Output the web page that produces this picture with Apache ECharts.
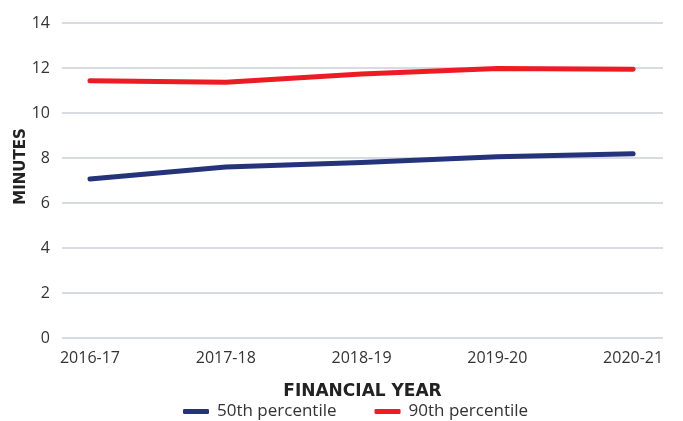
<!DOCTYPE html>
<html>
<head>
<meta charset="utf-8">
<script src="https://cdn.jsdelivr.net/npm/echarts@6/dist/echarts.min.js"></script>
<style>
  html, body { margin: 0; padding: 0; background: #fff; }
  #chart { width: 683px; height: 421px; }
</style>
</head>
<body>
<div id="chart"></div>
<script>
// Données (minutes)
const years = ['2016-17', '2017-18', '2018-19', '2019-20', '2020-21'];
const p50 = [7.07, 7.6, 7.8, 8.06, 8.19];
const p90 = [11.43, 11.37, 11.73, 11.98, 11.94];
const yTicks = [0, 2, 4, 6, 8, 10, 12, 14];

const FONT = '"Open Sans"';
const BOLD = '"DejaVu Sans"';
const TXT = '#333333';

// x en valeur pour laisser un peu de marge avant le 1er et après le dernier point
const toPoints = (vals) => vals.map((v, i) => [i, v]);

const chart = echarts.init(document.getElementById('chart'), null, { renderer: 'canvas' });
chart.setOption({
  animation: false,
  backgroundColor: '#ffffff',
  textStyle: { fontFamily: FONT, color: TXT },
  grid: { left: 62, right: 20, top: 23, bottom: 83 },
  xAxis: {
    type: 'value',
    min: -0.206,
    max: 4.22,
    axisLine: { show: false },
    axisTick: { show: false },
    splitLine: { show: false },
    axisLabel: {
      customValues: years.map((_, i) => i),
      formatter: (v) => years[Math.round(v)] || '',
      fontFamily: FONT, fontSize: 16, color: TXT, margin: 12,
    },
    name: 'FINANCIAL YEAR',
    nameLocation: 'middle',
    nameGap: 45,
    nameTextStyle: { fontFamily: BOLD, fontSize: 17, fontWeight: 'bold', color: '#222' },
  },
  yAxis: {
    type: 'value',
    min: 0,
    max: 14,
    interval: 2,
    axisLine: { show: false },
    axisTick: { show: false },
    axisLabel: {
      customValues: yTicks,
      fontFamily: FONT, fontSize: 16, color: TXT, margin: 12,
    },
    splitLine: { lineStyle: { color: '#d9dbe2', width: 2 } },
    name: 'MINUTES',
    nameLocation: 'middle',
    nameRotate: 90,
    nameGap: 33,
    nameMoveOverlap: false,
    nameTextStyle: { fontFamily: BOLD, fontSize: 15, fontWeight: 'bold', color: '#222', padding: [0, 0, 0, 28] },
  },
  legend: {
    bottom: 0,
    left: 178,
    padding: [0, 5, 1, 5],
    icon: 'roundRect',
    itemWidth: 26,
    itemHeight: 5,
    itemGap: 38,
    textStyle: { fontFamily: FONT, fontSize: 17, color: TXT, padding: [0, 0, 0, 3] },
    data: ['50th percentile', '90th percentile'],
  },
  series: [
    {
      name: '50th percentile', type: 'line', symbol: 'none',
      lineStyle: { width: 5, color: '#25337a', cap: 'round', join: 'round' },
      itemStyle: { color: '#25337a' },
      data: toPoints(p50),
    },
    {
      name: '90th percentile', type: 'line', symbol: 'none',
      lineStyle: { width: 5, color: '#ed1c24', cap: 'round', join: 'round' },
      itemStyle: { color: '#ed1c24' },
      data: toPoints(p90),
    },
  ],
});
</script>
</body>
</html>
